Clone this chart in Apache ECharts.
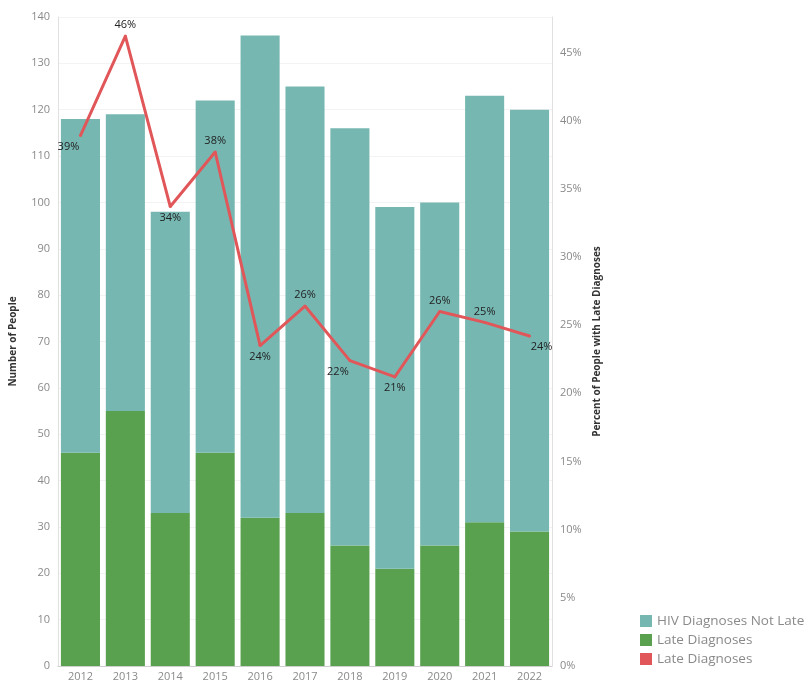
<!DOCTYPE html>
<html>
<head>
<meta charset="utf-8">
<script src="https://cdn.jsdelivr.net/npm/echarts@6/dist/echarts.min.js"></script>
<style>
  html, body { margin: 0; padding: 0; background: #fff; }
  #chart { width: 808px; height: 689px; }
</style>
</head>
<body>
<div id="chart"></div>
<script>
const years = ['2012', '2013', '2014', '2015', '2016', '2017', '2018', '2019', '2020', '2021', '2022']
const notLate = [72, 64, 65, 76, 104, 92, 90, 78, 74, 92, 91]
const late = [46, 55, 33, 46, 32, 33, 26, 21, 26, 31, 29]
const latePct = [38.9, 46.2, 33.7, 37.7, 23.5, 26.4, 22.4, 21.2, 26.0, 25.2, 24.2]
const pctLabels = ['39%', '46%', '34%', '38%', '24%', '26%', '22%', '21%', '26%', '25%', '24%']
const labelPos = ['bottom', 'top', 'bottom', 'top', 'bottom', 'top', 'bottom', 'bottom', 'top', 'top', 'bottom']
const labelOffset = [[-12, 0], [0, 0], [0, 0], [0, 0], [0, 0], [0, 0], [-12, 0], [0, 0], [0, 0], [0, 0], [12, 0]]

const chart = echarts.init(document.getElementById('chart'))

const axisText = { color: '#8a8a8a', fontSize: 11, fontFamily: 'Open Sans' }
const titleText = { color: '#333', fontSize: 10, fontWeight: 'bold', fontFamily: 'Open Sans' }

chart.setOption({
  animation: false,
  grid: { left: 57, right: 256, top: 17, bottom: 23 },
  legend: {
    orient: 'vertical',
    left: 635,
    top: 609,
    itemWidth: 12,
    itemHeight: 12,
    itemGap: 5,
    icon: 'rect',
    textStyle: { color: '#8a8a8a', fontSize: 13.5, fontFamily: 'Open Sans' },
    data: ['HIV Diagnoses Not Late', 'Late Diagnoses', { name: 'Late Diagnoses ', icon: 'rect' }]
  },
  xAxis: {
    type: 'category',
    data: years,
    axisTick: { show: false },
    axisLine: { lineStyle: { color: '#cfcfcf' } },
    axisLabel: Object.assign({ margin: 5 }, axisText)
  },
  yAxis: [
    {
      type: 'value',
      min: 0,
      max: 140,
      interval: 10,
      name: 'Number of People',
      nameLocation: 'middle',
      nameGap: 40,
      nameTextStyle: titleText,
      axisLine: { show: true, lineStyle: { color: '#e0e0e0' } },
      axisTick: { show: false },
      axisLabel: axisText,
      splitLine: { lineStyle: { color: '#f3f3f3' } }
    },
    {
      type: 'value',
      min: 0,
      max: 47.6,
      interval: 5,
      name: 'Percent of People with Late Diagnoses',
      nameLocation: 'middle',
      nameGap: 40,
      nameTextStyle: titleText,
      axisLine: { show: true, lineStyle: { color: '#e0e0e0' } },
      axisTick: { show: false },
      axisLabel: Object.assign({
        formatter: v => (v % 5 === 0 ? v + '%' : '')
      }, axisText),
      splitLine: { show: false }
    }
  ],
  series: [
    {
      name: 'Late Diagnoses',
      type: 'bar',
      stack: 'total',
      data: late,
      barCategoryGap: '13%',
      itemStyle: { color: '#59a14f' }
    },
    {
      name: 'HIV Diagnoses Not Late',
      type: 'bar',
      stack: 'total',
      data: notLate,
      itemStyle: { color: '#76b7b2' }
    },
    {
      name: 'Late Diagnoses ',
      type: 'line',
      yAxisIndex: 1,
      data: latePct.map((v, i) => ({
        value: v,
        label: { position: labelPos[i], offset: labelOffset[i] }
      })),
      symbol: 'circle',
      symbolSize: 3,
      showSymbol: true,
      lineStyle: { color: '#e15759', width: 3 },
      itemStyle: { color: '#e15759' },
      label: {
        show: true,
        color: '#222',
        fontSize: 11,
        fontFamily: 'Open Sans',
        distance: 4,
        formatter: p => pctLabels[p.dataIndex]
      }
    }
  ]
})
</script>
</body>
</html>
